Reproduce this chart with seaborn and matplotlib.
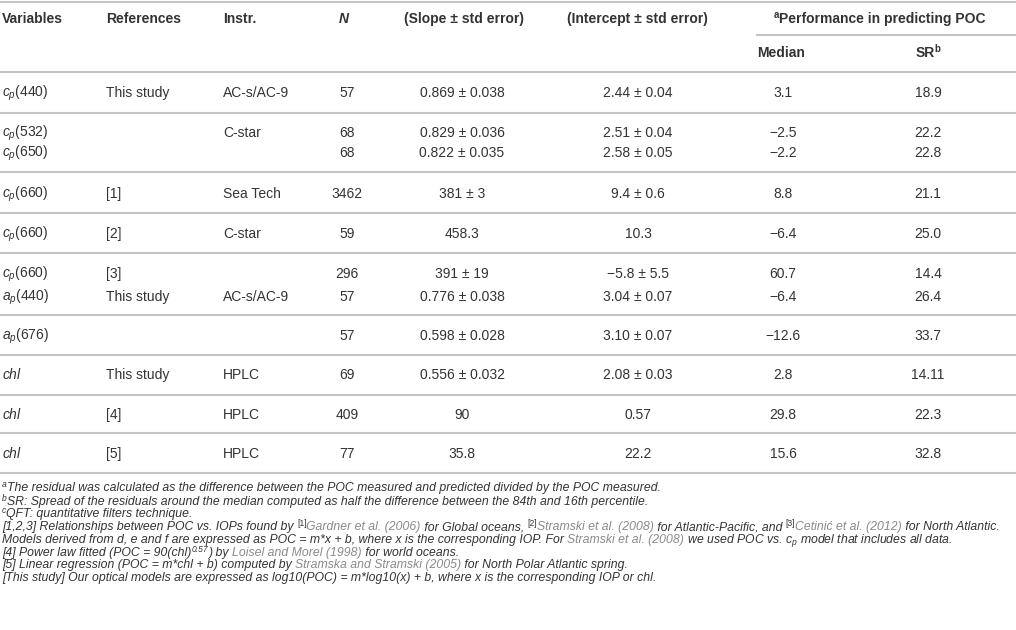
import seaborn as sns
import matplotlib
matplotlib.use("Agg")
import matplotlib.pyplot as plt

sns.set_theme(style="white")
plt.rcParams["font.family"] = ["Liberation Sans", "DejaVu Sans"]
plt.rcParams["mathtext.fontset"] = "custom"
plt.rcParams["mathtext.rm"] = "Liberation Sans"
plt.rcParams["mathtext.it"] = "Liberation Sans:italic"
plt.rcParams["mathtext.bf"] = "Liberation Sans:bold"

# table data
variables = [r"$c_p$(440)", r"$c_p$(532)", r"$c_p$(650)", r"$c_p$(660)", r"$c_p$(660)",
             r"$c_p$(660)", r"$a_p$(440)", r"$a_p$(676)", r"$chl$", r"$chl$", r"$chl$"]
references = ["This study", "", "", "[1]", "[2]", "[3]", "This study", "", "This study", "[4]", "[5]"]
instruments = ["AC-s/AC-9", "C-star", "", "Sea Tech", "C-star", "", "AC-s/AC-9", "", "HPLC", "HPLC", "HPLC"]
n_obs = [57, 68, 68, 3462, 59, 296, 57, 57, 69, 409, 77]
slope = ["0.869 ± 0.038", "0.829 ± 0.036", "0.822 ± 0.035", "381 ± 3", "458.3", "391 ± 19",
         "0.776 ± 0.038", "0.598 ± 0.028", "0.556 ± 0.032", "90", "35.8"]
intercept = ["2.44 ± 0.04", "2.51 ± 0.04", "2.58 ± 0.05", "9.4 ± 0.6", "10.3", "−5.8 ± 5.5",
             "3.04 ± 0.07", "3.10 ± 0.07", "2.08 ± 0.03", "0.57", "22.2"]
median = ["3.1", "−2.5", "−2.2", "8.8", "−6.4", "60.7", "−6.4", "−12.6", "2.8", "29.8", "15.6"]
spread = ["18.9", "22.2", "22.8", "21.1", "25.0", "14.4", "26.4", "33.7", "14.11", "22.3", "32.8"]

# footnotes: (text, flags)  i=italic g=link colour ^=superscript
footnotes = [
    [("a", "i^"), ("The residual was calculated as the difference between the POC measured and predicted divided by the POC measured.", "i")],
    [("b", "i^"), ("SR: Spread of the residuals around the median computed as half the difference between the 84th and 16th percentile.", "i")],
    [("c", "i^"), ("QFT: quantitative filters technique.", "i")],
    [("[1,2,3] Relationships between POC vs. IOPs found by ", "i"), ("[1]", "^"), ("Gardner et al. (2006)", "ig"),
     (" for Global oceans, ", "i"), ("[2]", "^"), ("Stramski et al. (2008)", "ig"),
     (" for Atlantic-Pacific, and ", "i"), ("[3]", "^"), ("Cetinić et al. (2012)", "ig"), (" for North Atlantic.", "i")],
    [("Models derived from d, e and f are expressed as POC = m*x + b, where x is the corresponding IOP. For ", "i"),
     ("Stramski et al. (2008)", "ig"), (r" we used POC vs. $c_p$ model that includes all data.", "i")],
    [("[4] Power law fitted (POC = 90(chl)", "i"), ("0.57", "i^"), (") by ", "i"),
     ("Loisel and Morel (1998)", "ig"), (" for world oceans.", "i")],
    [("[5] Linear regression (POC = m*chl + b) computed by ", "i"), ("Stramska and Stramski (2005)", "ig"),
     (" for North Polar Atlantic spring.", "i")],
    [("[This study] Our optical models are expressed as log10(POC) = m*log10(x) + b, where x is the corresponding IOP or chl.", "i")],
]

# layout (pixels)
row_y = [92, 132, 152, 193, 233, 273, 296, 335, 374, 414, 453]
rule_y = [2, 72, 113, 172, 213, 253, 315, 355, 395, 433, 473]
note_y = [487, 501, 513, 526, 539, 552, 564, 577]
TXT = "#333333"
LINK = "#8a8a8a"
RULE = "#c4c4c4"
FS = 10
NFS = 8.8

fig = plt.figure(figsize=(10.16, 6.30), dpi=100)
ax = fig.add_axes([0, 0, 1, 1])
ax.set_xlim(0, 1016)
ax.set_ylim(630, 0)
ax.axis("off")
rend = fig.canvas.get_renderer()


def width(s, **kw):
    t1 = ax.text(0, 0, "|" + s + "|", **kw)
    t2 = ax.text(0, 0, "||", **kw)
    w = t1.get_window_extent(rend).width - t2.get_window_extent(rend).width
    t1.remove()
    t2.remove()
    return w


def run(x, y, parts, size, weight="normal", ha="left"):
    items = []
    for s, fl in parts:
        kw = dict(fontsize=size * (0.7 if "^" in fl else 1.0),
                  fontstyle="italic" if "i" in fl else "normal",
                  fontweight=weight, color=LINK if "g" in fl else TXT)
        items.append((s, fl, kw, width(s, **kw)))
    total = sum(it[3] for it in items)
    if ha == "center":
        x -= total / 2
    for s, fl, kw, w in items:
        dy = -size * 100 / 72 * 0.36 if "^" in fl else 0
        ax.text(x, y + dy, s, va="baseline", ha="left", **kw)
        x += w


ax.hlines(rule_y, 0, 1016, color=RULE, lw=1.5)
ax.hlines(35, 756, 1016, color=RULE, lw=1.5)

base = 5
hy = 18 + base
hdr = dict(fontsize=FS, fontweight="bold", color=TXT, va="baseline")
ax.text(2, hy, "Variables", **hdr)
ax.text(106, hy, "References", **hdr)
ax.text(223, hy, "Instr.", **hdr)
ax.text(344, hy, "N", ha="center", fontstyle="italic", **hdr)
ax.text(464, hy, "(Slope ± std error)", ha="center", **hdr)
ax.text(637, hy, "(Intercept ± std error)", ha="center", **hdr)
run(880, hy, [("a", "^"), ("Performance in predicting POC", "")], FS, weight="bold", ha="center")
ax.text(781, 52 + base, "Median", ha="center", **hdr)
run(928, 52 + base, [("SR", ""), ("b", "^")], FS, weight="bold", ha="center")

cell = dict(fontsize=FS, color=TXT, va="baseline")
for i, y in enumerate(row_y):
    yb = y + base
    ax.text(2, yb, variables[i], **cell)
    ax.text(106, yb, references[i], **cell)
    ax.text(223, yb, instruments[i], **cell)
    ax.text(347, yb, str(n_obs[i]), ha="center", **cell)
    ax.text(462, yb, slope[i], ha="center", **cell)
    ax.text(638, yb, intercept[i], ha="center", **cell)
    ax.text(783, yb, median[i], ha="center", **cell)
    ax.text(928, yb, spread[i], ha="center", **cell)

for y, parts in zip(note_y, footnotes):
    run(2, y + 4, parts, NFS)

fig.savefig("out.png", dpi=100)
